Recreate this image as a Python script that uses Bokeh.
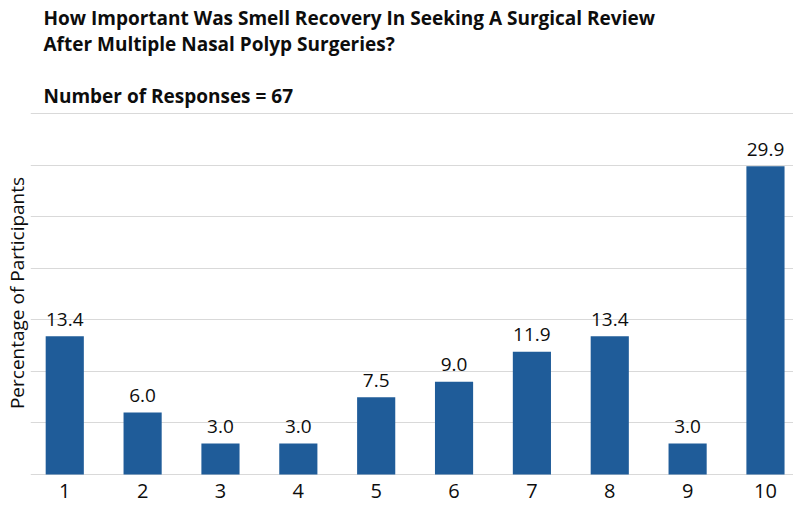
from bokeh.plotting import figure
from bokeh.models import ColumnDataSource, FixedTicker, Range1d, Title
from bokeh.embed import file_html
from bokeh.resources import INLINE
from bokeh.core.properties import value

# ---- data ----
ratings = [1, 2, 3, 4, 5, 6, 7, 8, 9, 10]
tick_labels = ["1", "2", "3", "4", "5", "6", "7", "8", "9", "10"]
percentages = [13.4, 6.0, 3.0, 3.0, 7.5, 9.0, 11.9, 13.4, 3.0, 29.9]
grid_values = [0, 5, 10, 15, 20, 25, 30, 35]
title_lines = ["How Important Was Smell Recovery In Seeking A Surgical Review",
               "After Multiple Nasal Polyp Surgeries?"]
subtitle = "Number of Responses = 67"
y_label = "Percentage of Participants"

FONT = "Open Sans"
BAR = "#1F5C99"
TXT = "#0d0d0d"

src = ColumnDataSource(dict(x=ratings, y=percentages,
                            label=[f"{v:.1f}" for v in percentages]))

p = figure(width=793, height=503, output_backend="svg", toolbar_location=None,
           x_range=Range1d(ratings[0] - 0.44, ratings[-1] + 0.36),
           y_range=Range1d(-0.1, grid_values[-1] + 0.3),
           min_border_left=0, min_border_right=0, min_border_top=0,
           min_border_bottom=28, outline_line_color=None,
           title="\n".join(title_lines + ["", subtitle]))

p.title.text_font = FONT
p.title.text_font_size = "19px"
p.title.text_font_style = "bold"
p.title.text_color = TXT
p.title.text_line_height = 1.0
p.title.align = "left"
p.title.offset = 13
p.title.standoff = 4

ytitle = Title(text=y_label, align="center", text_font=FONT,
               text_font_size="19px", text_font_style="normal",
               text_color=TXT, standoff=2)
p.add_layout(ytitle, "left")

p.vbar(x="x", top="y", bottom=0, width=0.49, source=src,
       fill_color=BAR, line_color=None)
p.text(x="x", y="y", text="label", source=src, text_align="center",
       text_baseline="alphabetic", y_offset=-17, text_font=value(FONT),
       text_font_size="19px", text_color=TXT)

p.xaxis.ticker = FixedTicker(ticks=ratings)
p.xaxis.major_label_overrides = {r: t for r, t in zip(ratings, tick_labels)}
p.xaxis.axis_line_color = None
p.xaxis.major_tick_line_color = None
p.xaxis.minor_tick_line_color = None
p.xaxis.major_label_text_font = FONT
p.xaxis.major_label_text_font_size = "20px"
p.xaxis.major_label_text_color = TXT
p.xaxis.major_label_standoff = 2

p.yaxis.visible = False

p.xgrid.visible = False
p.ygrid.ticker = FixedTicker(ticks=grid_values)
p.ygrid.grid_line_color = "#D9D9D9"
p.ygrid.grid_line_width = 1.2

open("out.html", "w").write(file_html(p, INLINE))
